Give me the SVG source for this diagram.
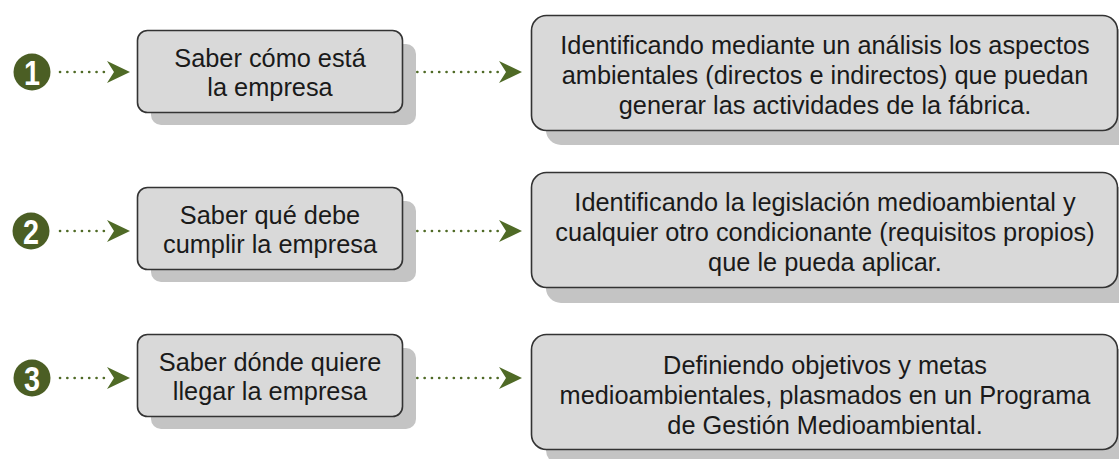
<svg xmlns="http://www.w3.org/2000/svg" width="1119" height="459" viewBox="0 0 1119 459">
<style>
.bg{fill:#ffffff}
.sh{fill:#c4c4c4}
.box{fill:#d9d9d9;stroke:#333333;stroke-width:1.6}
.num{fill:#4b5e24}
.numt{fill:#ffffff;font-family:"Liberation Sans",Arial,sans-serif;font-weight:bold;font-size:36px;text-anchor:middle}
.t{fill:#1a1a1a;font-family:"Liberation Sans",Arial,sans-serif;font-size:26px;text-anchor:middle}
.dot{fill:none;stroke:#4f6a26;stroke-width:2.6;stroke-linecap:round;stroke-dasharray:0.1 7.2}
.head{fill:#4f6a26}
</style>
<rect class="bg" x="0" y="0" width="1119" height="459"/>

<g id="badges">
  <g id="n1"><circle class="num" cx="32" cy="72" r="18.5"/><text class="numt" transform="translate(32,85) scale(0.8,1)" x="0" y="0">1</text></g>
  <g id="n2"><circle class="num" cx="31" cy="231" r="18.5"/><text class="numt" transform="translate(31,244) scale(0.8,1)" x="0" y="0">2</text></g>
  <g id="n3"><circle class="num" cx="32" cy="378" r="18.5"/><text class="numt" transform="translate(32,391) scale(0.8,1)" x="0" y="0">3</text></g>
</g>

<g id="connectors">
  <path class="dot" d="M60 72 H108"/>
  <path class="head" d="M130 72 L107 61 L114 72 L107 83 Z"/>
  <path class="dot" d="M410 72 H503"/>
  <path class="head" d="M522 72 L499 61 L506 72 L499 83 Z"/>

  <path class="dot" d="M60 231 H108"/>
  <path class="head" d="M130 231 L107 220 L114 231 L107 242 Z"/>
  <path class="dot" d="M410 231 H503"/>
  <path class="head" d="M522 231 L499 220 L506 231 L499 242 Z"/>

  <path class="dot" d="M60 378 H108"/>
  <path class="head" d="M130 378 L107 367 L114 378 L107 389 Z"/>
  <path class="dot" d="M410 378 H503"/>
  <path class="head" d="M522 378 L499 367 L506 378 L499 389 Z"/>
</g>

<g id="q1">
  <rect class="sh" x="151" y="44" width="265" height="81" rx="10"/>
  <rect class="box" x="137.5" y="30.5" width="265" height="82" rx="10"/>
  <g transform="translate(270,0) scale(0.975,1)">
    <text class="t" x="0" y="67">Saber cómo está</text>
    <text class="t" x="0" y="96">la empresa</text>
  </g>
</g>
<g id="a1">
  <rect class="sh" x="546" y="29" width="590" height="116" rx="15"/>
  <rect class="box" x="531.5" y="15.5" width="586" height="115" rx="15"/>
  <g transform="translate(825,0) scale(0.975,1)">
    <text class="t" x="0" y="54">Identificando mediante un análisis los aspectos</text>
    <text class="t" x="0" y="84">ambientales (directos e indirectos) que puedan</text>
    <text class="t" x="0" y="114">generar las actividades de la fábrica.</text>
  </g>
</g>

<g id="q2">
  <rect class="sh" x="151" y="201" width="265" height="81" rx="10"/>
  <rect class="box" x="137.5" y="187.5" width="265" height="82" rx="10"/>
  <g transform="translate(270,0) scale(0.975,1)">
    <text class="t" x="0" y="224">Saber qué debe</text>
    <text class="t" x="0" y="253">cumplir la empresa</text>
  </g>
</g>
<g id="a2">
  <rect class="sh" x="546" y="187" width="590" height="116" rx="15"/>
  <rect class="box" x="531.5" y="172.5" width="586" height="115" rx="15"/>
  <g transform="translate(825,0) scale(0.975,1)">
    <text class="t" x="0" y="211">Identificando la legislación medioambiental y</text>
    <text class="t" x="0" y="241">cualquier otro condicionante (requisitos propios)</text>
    <text class="t" x="0" y="271">que le pueda aplicar.</text>
  </g>
</g>

<g id="q3">
  <rect class="sh" x="151" y="348" width="265" height="81" rx="10"/>
  <rect class="box" x="137.5" y="334.5" width="265" height="82" rx="10"/>
  <g transform="translate(270,0) scale(0.975,1)">
    <text class="t" x="0" y="371">Saber dónde quiere</text>
    <text class="t" x="0" y="400">llegar la empresa</text>
  </g>
</g>
<g id="a3">
  <rect class="sh" x="546" y="349" width="590" height="116" rx="15"/>
  <rect class="box" x="531.5" y="334.5" width="586" height="115" rx="15"/>
  <g transform="translate(825,0) scale(0.975,1)">
    <text class="t" x="0" y="374">Definiendo objetivos y metas</text>
    <text class="t" x="0" y="404">medioambientales, plasmados en un Programa</text>
    <text class="t" x="0" y="434">de Gestión Medioambiental.</text>
  </g>
</g>
</svg>
